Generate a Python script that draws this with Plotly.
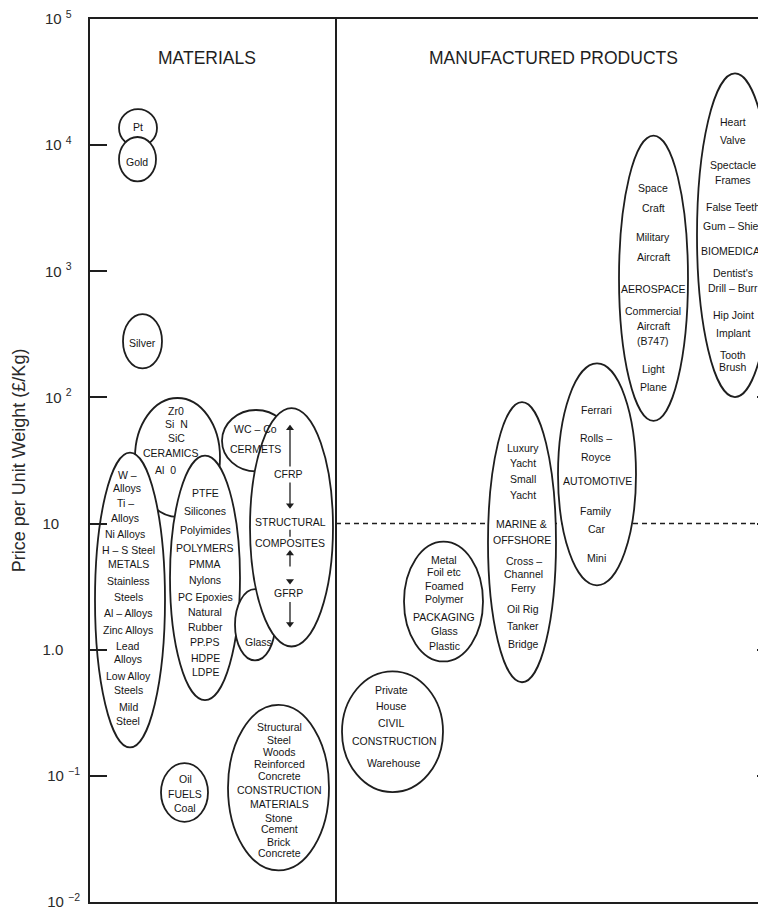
import plotly.graph_objects as go

# ---------------- data ----------------
categories = ["Pt", "Gold", "Silver", "Ceramics", "Metals", "Polymers", "Cermets", "Glass",
              "Structural composites", "Fuels", "Construction materials", "Civil construction",
              "Packaging", "Marine & offshore", "Automotive", "Aerospace", "Biomedical"]
price_high = [19300, 11600, 458, 99, 36.5, 34.6, 79.5, 3.02, 82.4, 0.126, 0.365, 0.674,
              7.19, 91.8, 186, 11900, 37000]
price_low = [9720, 5160, 170, 11.3, 0.168, 0.399, 25.9, 0.822, 1.06, 0.0432, 0.0178, 0.0743,
             0.807, 0.552, 3.24, 65.2, 100.5]

# layout positions of the ellipses along the (unitless) horizontal axis
x_center = [48, 47.5, 52.5, 87.5, 40, 115, 166, 165, 201.5, 94.5, 188.5, 302.5, 353.5, 432, 507, 563.5, 645]
x_half = [19, 18.5, 19.5, 42.5, 35, 35, 34, 20, 41.5, 23.5, 50.5, 50.5, 39.5, 34, 39, 34.5, 38]

# text lines inside the ellipses: text, x, log10(price)
label_text = [
    "Pt", "Gold", "Silver",
    "Zr0", "Si  N", "SiC", "CERAMICS", "Al  0",
    "W –", "Alloys", "Ti –", "Alloys", "Ni Alloys", "H – S Steel", "METALS", "Stainless", "Steels",
    "Al – Alloys", "Zinc Alloys", "Lead", "Alloys", "Low Alloy", "Steels", "Mild", "Steel",
    "PTFE", "Silicones", "Polyimides", "POLYMERS", "PMMA", "Nylons", "PC Epoxies", "Natural",
    "Rubber", "PP.PS", "HDPE", "LDPE",
    "WC – Co", "CERMETS",
    "CFRP", "STRUCTURAL", "COMPOSITES", "GFRP",
    "Glass",
    "Oil", "FUELS", "Coal",
    "Structural", "Steel", "Woods", "Reinforced", "Concrete", "CONSTRUCTION", "MATERIALS",
    "Stone", "Cement", "Brick", "Concrete",
    "Private", "House", "CIVIL", "CONSTRUCTION", "Warehouse",
    "Metal", "Foil etc", "Foamed", "Polymer", "PACKAGING", "Glass", "Plastic",
    "Luxury", "Yacht", "Small", "Yacht", "MARINE &", "OFFSHORE", "Cross –", "Channel", "Ferry",
    "Oil Rig", "Tanker", "Bridge",
    "Ferrari", "Rolls –", "Royce", "AUTOMOTIVE", "Family", "Car", "Mini",
    "Space", "Craft", "Military", "Aircraft", "AEROSPACE", "Commercial", "Aircraft", "(B747)",
    "Light", "Plane",
    "Heart", "Valve", "Spectacle", "Frames", "False Teeth", "Gum – Shield", "BIOMEDICAL",
    "Dentist's", "Drill – Burr", "Hip Joint", "Implant", "Tooth", "Brush",
]
label_x = (
    [48, 47, 52]
    + [86, 86, 86, 80, 75]
    + [37, 37, 35, 35, 35, 38, 38, 38, 38, 38, 38, 38, 38, 38, 38, 38, 38]
    + [115] * 12
    + [165, 165]
    + [198, 200, 200, 198]
    + [168]
    + [95, 95, 95]
    + [189] * 11
    + [301, 301, 301, 304, 303]
    + [354] * 7
    + [433, 433, 433, 433, 431, 432, 434, 433, 433, 433, 433, 433]
    + [506, 506, 506, 507, 506, 506, 506]
    + [563] * 10
    + [643, 643, 643, 643, 643, 645, 643, 643, 643, 643, 643, 643, 643]
)
label_logy = (
    [4.145, 3.870, 2.434]
    + [1.892, 1.790, 1.680, 1.563, 1.422]
    + [1.382, 1.280, 1.163, 1.045, 0.919, 0.794, 0.676, 0.543, 0.417, 0.291, 0.158, 0.033,
       -0.077, -0.211, -0.321, -0.454, -0.564]
    + [1.241, 1.100, 0.951, 0.809, 0.676, 0.550, 0.417, 0.299, 0.182, 0.064, -0.062, -0.179]
    + [1.751, 1.594]
    + [1.390, 1.013, 0.849, 0.448]
    + [0.064]
    + [-1.027, -1.145, -1.255]
    + [-0.611, -0.713, -0.807, -0.909, -1.003, -1.113, -1.223, -1.333, -1.419, -1.521, -1.615]
    + [-0.321, -0.446, -0.580, -0.721, -0.901]
    + [0.715, 0.613, 0.503, 0.401, 0.260, 0.150, 0.033]
    + [1.602, 1.484, 1.351, 1.225, 0.998, 0.872, 0.700, 0.598, 0.488, 0.323, 0.189, 0.048]
    + [1.900, 1.680, 1.524, 1.335, 1.100, 0.959, 0.731]
    + [3.658, 3.501, 3.274, 3.117, 2.858, 2.685, 2.567, 2.450, 2.222, 2.081]
    + [4.184, 4.043, 3.846, 3.721, 3.509, 3.360, 3.164, 2.983, 2.865, 2.654, 2.512, 2.340, 2.238]
)

# composite price-range arrows (price £/kg): line segments and arrow heads
arrow_x = 200
seg_from = [59.6, 21.2, 7.87, 4.57, 2.39]
seg_to = [28.4, 13.5, 8.93, 6.00, 1.55]
head_up = [57.0, 5.8]
head_down = [14.0, 3.5, 1.6]

tick_vals = [0.01, 0.1, 1, 10, 100, 1000, 10000, 100000]
NB = "\u00a0"
tick_text = ["10" + NB + "<sup>\u22122</sup>", "10" + NB + "<sup>\u22121</sup>",
             "1.0" + NB * 4, "10" + NB * 5,
             "10" + NB + "<sup>2</sup>" + NB * 2, "10" + NB + "<sup>3</sup>" + NB * 2,
             "10" + NB + "<sup>4</sup>" + NB * 2, "10" + NB + "<sup>5</sup>" + NB * 2]
right_tick_vals = [0.1, 1, 10, 100]

panel_titles = ["MATERIALS", "MANUFACTURED PRODUCTS"]
panel_title_x = [117, 463.5]
divider_x = 246
reference_price = 10

FONT = "Liberation Sans, Arial, Helvetica, sans-serif"
INK = "#1e1e1e"
TXT = "#151515"

fig = go.Figure()

# invisible anchor trace (one point per range, for hover)
fig.add_trace(go.Scatter(
    x=x_center, y=[(h * l) ** 0.5 for h, l in zip(price_high, price_low)],
    mode="markers", marker=dict(opacity=0), text=categories, hoverinfo="text",
    showlegend=False))
fig.add_trace(go.Scatter(x=[0], y=[1], yaxis="y2", mode="markers",
                         marker=dict(opacity=0), hoverinfo="skip", showlegend=False))

shapes = []
# dashed reference line at 10 £/kg in the products panel
shapes.append(dict(type="line", xref="x", yref="y", x0=divider_x, x1=680,
                   y0=reference_price, y1=reference_price, layer="below",
                   line=dict(color=INK, width=1.4, dash="5px,4px")))
for xc, xh, lo, hi in zip(x_center, x_half, price_low, price_high):
    shapes.append(dict(type="circle", xref="x", yref="y", layer="below",
                       x0=xc - xh, x1=xc + xh, y0=lo, y1=hi,
                       fillcolor="white", line=dict(color=INK, width=1.8)))
shapes.append(dict(type="line", xref="x", yref="paper", x0=divider_x, x1=divider_x,
                   y0=0, y1=1, line=dict(color=INK, width=2)))
for a, b in zip(seg_from, seg_to):
    shapes.append(dict(type="line", xref="x", yref="y", x0=arrow_x, x1=arrow_x,
                       y0=a, y1=b, line=dict(color=INK, width=1.3)))

# arrow heads
fig.add_trace(go.Scatter(x=[arrow_x] * len(head_up), y=head_up, mode="markers",
                         marker=dict(symbol="triangle-up", size=7, color=INK),
                         hoverinfo="skip", showlegend=False))
fig.add_trace(go.Scatter(x=[arrow_x] * len(head_down), y=head_down, mode="markers",
                         marker=dict(symbol="triangle-down", size=7, color=INK),
                         hoverinfo="skip", showlegend=False))

annotations = []
for t, x, ly in zip(label_text, label_x, label_logy):
    annotations.append(dict(x=x, y=ly, xref="x", yref="y", text=t, showarrow=False,
                            xanchor="center", yanchor="middle",
                            font=dict(family=FONT, size=10.5, color=TXT)))
for t, x in zip(panel_titles, panel_title_x):
    annotations.append(dict(x=x, y=4.694, xref="x", yref="y", text=t, showarrow=False,
                            xanchor="center", yanchor="middle",
                            font=dict(family=FONT, size=17.5, color=INK)))

fig.update_layout(
    width=758, height=902,
    margin=dict(l=82, r=0, t=6, b=4),
    paper_bgcolor="white", plot_bgcolor="white",
    showlegend=False,
    font=dict(family=FONT, color=INK),
    shapes=shapes, annotations=annotations,
    xaxis=dict(range=[0, 676], showgrid=False, zeroline=False, showticklabels=False,
               ticks="", showline=True, mirror=True, linewidth=2, linecolor=INK),
    yaxis=dict(type="log", range=[-2, 5], showgrid=False, zeroline=False,
               tickvals=tick_vals, ticktext=tick_text, ticks="inside", ticklen=17,
               tickwidth=2, tickcolor=INK, showline=True, linewidth=2, linecolor=INK,
               tickfont=dict(family=FONT, size=15, color="#2a2a2a"),
               ticklabelstandoff=5, ticklabeloverflow="allow",
               title=dict(text="Price per Unit Weight (£/Kg)", standoff=12,
                          font=dict(family=FONT, size=18, color="#2a2a2a"))),
    yaxis2=dict(type="log", range=[-2, 5], overlaying="y", side="right", anchor="x",
                showgrid=False, zeroline=False, showline=False, showticklabels=False,
                tickvals=right_tick_vals, ticks="inside", ticklen=9, tickwidth=2,
                tickcolor=INK),
)

fig.write_html("out.html", config={"displayModeBar": False})
